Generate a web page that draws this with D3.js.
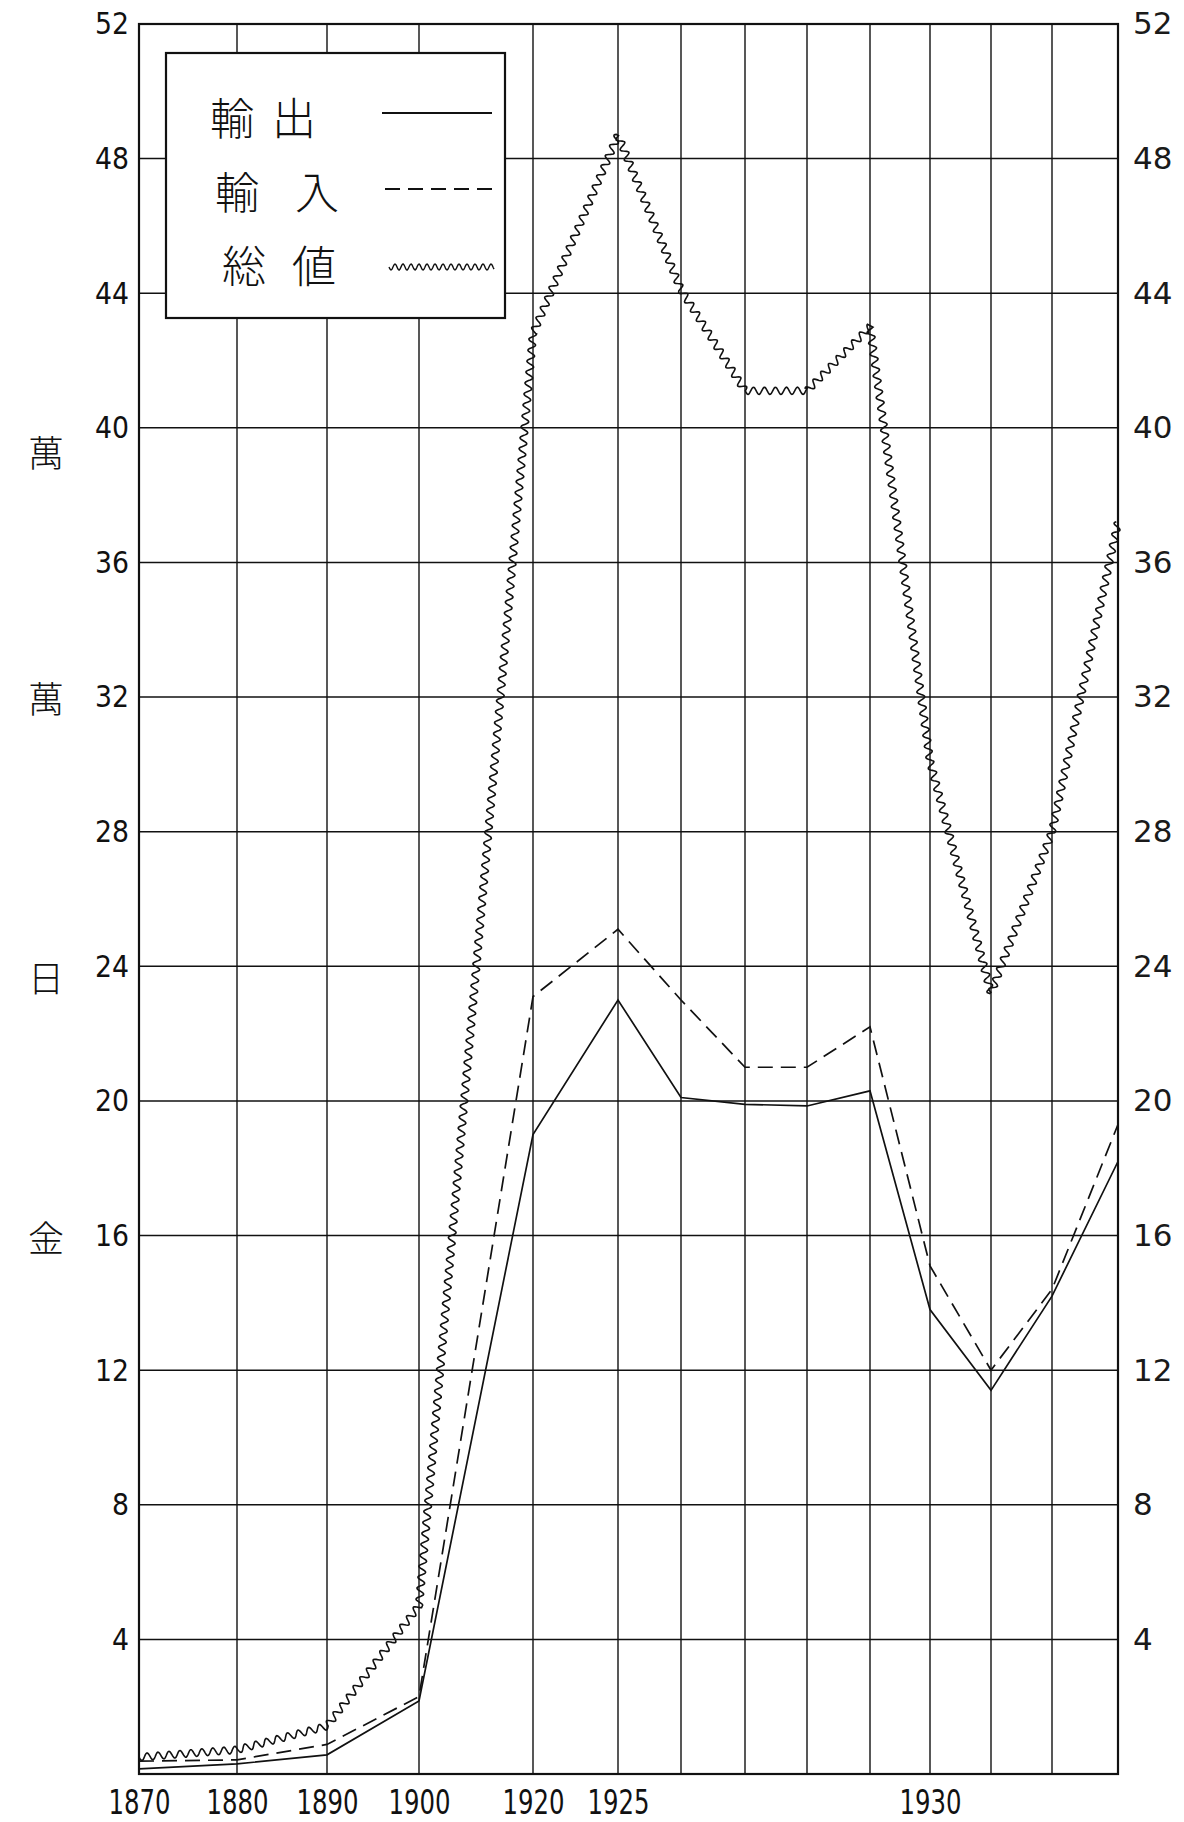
<!DOCTYPE html>
<html><head><meta charset="utf-8">
<script src="https://cdn.jsdelivr.net/npm/d3@7"></script>
<style>body{margin:0;background:#fff} svg{display:block;background:#fff}</style>
</head><body>
<svg id="c" width="1184" height="1822"></svg>
<script>
// ---------------- data ----------------
const years = [1870,1880,1890,1900,1920,1925,1926,1927,1928,1929,1930,1931,1932,1933];
const labeledYears = [1870,1880,1890,1900,1920,1925,1930];
const valueTicks = [4,8,12,16,20,24,28,32,36,40,44,48,52];
const exportValues = [0.15,0.30,0.57,2.17,19.0,23.0,20.1,19.9,19.85,20.3,13.8,11.4,14.2,18.2];
const importValues = [0.38,0.42,0.88,2.30,23.1,25.1,23.0,21.0,21.0,22.2,15.1,12.0,14.4,19.3];
const totalValues  = [0.50,0.72,1.42,5.0,42.8,48.7,44.1,41.1,41.1,43.0,30.1,23.2,28.0,37.2];
const legendLabels = ["輸出","輸入","総値"];
const unitChars = ["萬","萬","日","金"];

// ---------------- layout ----------------
const colX = [139,237,327,419,533,618,681,745,807,870,930,991,1052,1118]; // hand-ruled column positions
const plotTop = 24, plotBottom = 1774;
const unitCharPos = [39.3, 32.0, 23.7, 16.0];

const svg = d3.select("#c");
const x = d3.scaleLinear().domain(years).range(colX);
const y = d3.scaleLinear().domain([0,52]).range([plotBottom, plotTop]);

// grid
const g = svg.append("g");
g.selectAll("line.h").data(valueTicks.filter(v=>v<52)).join("line")
  .attr("x1", x(years[0])).attr("x2", x(years[years.length-1]))
  .attr("y1", d=>y(d)).attr("y2", d=>y(d))
  .attr("stroke","#111").attr("stroke-width",1.5);
g.selectAll("line.v").data(years).join("line")
  .attr("x1", d=>x(d)).attr("x2", d=>x(d))
  .attr("y1", y(52)).attr("y2", y(0))
  .attr("stroke","#111").attr("stroke-width",1.4);
g.append("rect").attr("x", x(years[0])).attr("y", y(52))
  .attr("width", x(years[years.length-1]) - x(years[0]))
  .attr("height", y(0) - y(52))
  .attr("fill","none").attr("stroke","#111").attr("stroke-width",2.2);

// axes
const narrow = "'DejaVu Sans Condensed','Liberation Sans',sans-serif";
const axL = svg.append("g").attr("transform",`translate(${x(years[0])},0)`)
  .call(d3.axisLeft(y).tickValues(valueTicks).tickSize(0).tickPadding(10));
axL.select(".domain").remove();
axL.selectAll("text").attr("font-family",narrow)
  .attr("font-size",31).attr("fill","#111")
  .attr("textLength",d=>String(d).length*17).attr("lengthAdjust","spacingAndGlyphs");

const axR = svg.append("g").attr("transform",`translate(${x(years[years.length-1])},0)`)
  .call(d3.axisRight(y).tickValues(valueTicks).tickSize(0).tickPadding(15));
axR.select(".domain").remove();
axR.selectAll("text").attr("font-family","'DejaVu Sans',sans-serif")
  .attr("font-size",31).attr("fill","#1a1a1a");

const axB = svg.append("g").attr("transform",`translate(0,${y(0)})`)
  .call(d3.axisBottom(x).tickValues(labeledYears).tickFormat(d3.format("d")).tickSize(0).tickPadding(16));
axB.select(".domain").remove();
axB.selectAll("text").attr("font-family",narrow)
  .attr("font-size",34).attr("fill","#111")
  .attr("textLength",62).attr("lengthAdjust","spacingAndGlyphs");

// unit label
svg.append("g").selectAll("text").data(unitChars).join("text")
  .attr("x",46).attr("y",(d,i)=>y(unitCharPos[i]))
  .attr("text-anchor","middle").attr("dominant-baseline","central")
  .attr("font-family","'Noto Sans CJK JP',sans-serif").attr("font-weight",300)
  .attr("font-size",36).attr("fill","#111").text(d=>d);

// series
const pts = vals => years.map((yr,i)=>[x(yr), y(vals[i])]);
const line = d3.line();
svg.append("path").attr("d", line(pts(exportValues)))
  .attr("fill","none").attr("stroke","#111").attr("stroke-width",1.7);
svg.append("path").attr("d", line(pts(importValues)))
  .attr("fill","none").attr("stroke","#111").attr("stroke-width",1.7)
  .attr("stroke-dasharray","15,8");

function wavy(points, amp, wl){
  const out = []; let s = 0;
  for(let k=0;k<points.length-1;k++){
    const [x0,y0]=points[k],[x1,y1]=points[k+1];
    const dx=x1-x0, dy=y1-y0, L=Math.hypot(dx,dy);
    const nx=-dy/L, ny=dx/L;
    const n=Math.max(2,Math.ceil(L/0.8));
    for(let j=(k===0?0:1);j<=n;j++){
      const t=j/n, ss=s+t*L;
      const o=amp*Math.sin(2*Math.PI*ss/wl);
      out.push([x0+dx*t+nx*o, y0+dy*t+ny*o]);
    }
    s+=L;
  }
  return out;
}
svg.append("path").attr("d", line(wavy(pts(totalValues),3.6,11)))
  .attr("fill","none").attr("stroke","#111").attr("stroke-width",1.6);

// legend
const lg = svg.append("g");
lg.append("rect").attr("x",166).attr("y",53).attr("width",339).attr("height",265)
  .attr("fill","#fff").attr("stroke","#111").attr("stroke-width",2.2);
const rowsY = [116,190,264];
lg.selectAll("text").data(legendLabels).join("text")
  .attr("x",(d,i)=>[210,215,222][i]).attr("y",(d,i)=>rowsY[i])
  .attr("dominant-baseline","central")
  .attr("font-family","'Noto Sans CJK JP',sans-serif").attr("font-weight",300)
  .attr("font-size",44).attr("letter-spacing",(d,i)=>[18,36,26][i]).attr("fill","#111").text(d=>d);
lg.append("line").attr("x1",382).attr("x2",492).attr("y1",113).attr("y2",113)
  .attr("stroke","#111").attr("stroke-width",1.8);
lg.append("line").attr("x1",385).attr("x2",497).attr("y1",189).attr("y2",189)
  .attr("stroke","#111").attr("stroke-width",1.8).attr("stroke-dasharray","15,8");
lg.append("path").attr("d", line(wavy([[389,267],[494,267]],3,8)))
  .attr("fill","none").attr("stroke","#111").attr("stroke-width",1.4);
</script>
</body></html>
